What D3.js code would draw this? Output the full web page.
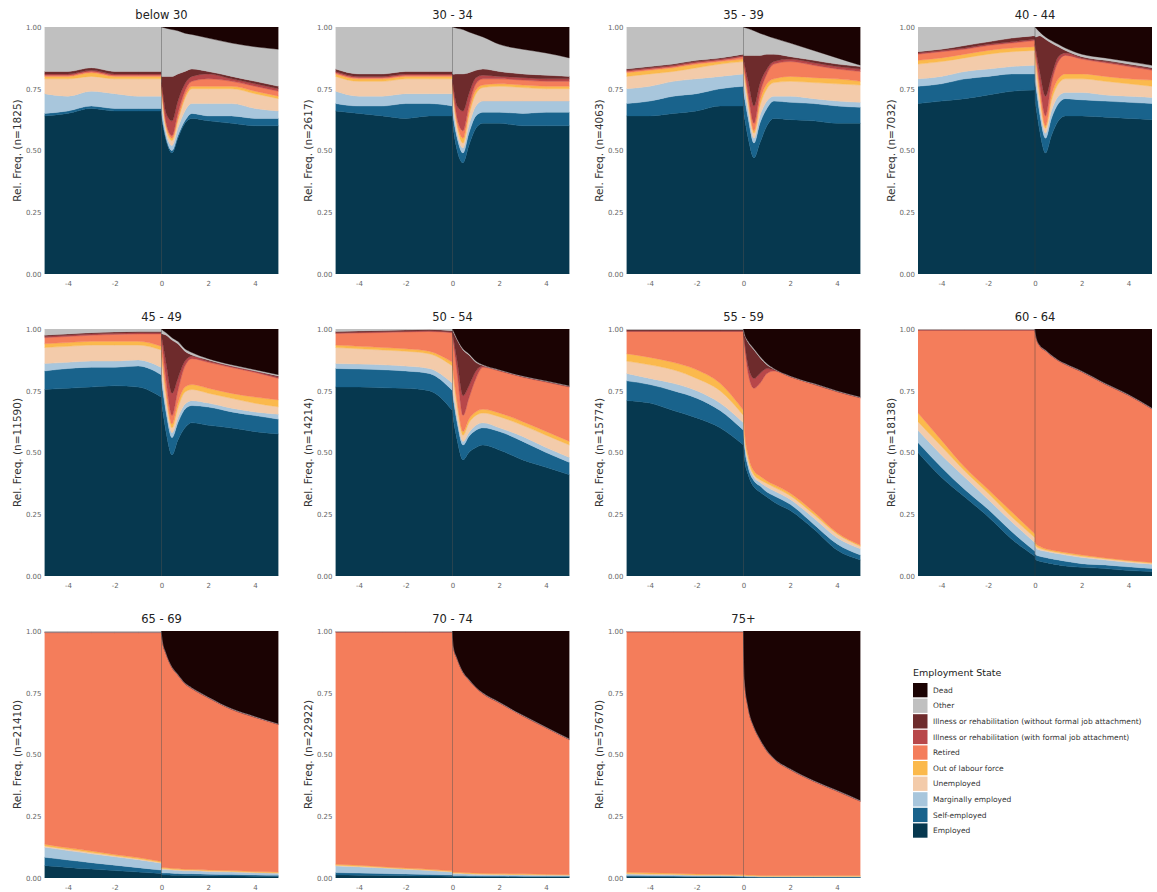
<!DOCTYPE html>
<html>
<head>
<meta charset="utf-8">
<script src="https://cdn.jsdelivr.net/npm/d3@7"></script>
<style>
  body { margin: 0; background: #fff; }
  svg text { font-family: "DejaVu Sans", sans-serif; }
</style>
</head>
<body>
<svg id="chart" width="1157" height="892"></svg>
<script>
// employment states, bottom of the stack first
const states = [
  "Employed", "Self-employed", "Marginally employed", "Unemployed", "Out of labour force",
  "Retired", "Illness or rehabilitation (with formal job attachment)",
  "Illness or rehabilitation (without formal job attachment)", "Other", "Dead"
];
const stateColors = [
  "#06384f", "#19638c", "#a8c6dc", "#f3cbaa", "#fbb94c",
  "#f47d5b", "#b8474a", "#6e2b2c", "#c0c0c0", "#1b0303"
];

const ageGroups = ["below 30", "30 - 34", "35 - 39", "40 - 44", "45 - 49", "50 - 54",
  "55 - 59", "60 - 64", "65 - 69", "70 - 74", "75+"];
const sampleSizes = [1825, 2617, 4063, 7032, 11590, 14214, 15774, 18138, 21410, 22922, 57670];

// years relative to the event; each share row = 6 values before, then 11 after
const yearsBefore = [-5, -4, -3, -2, -1, 0];
const yearsAfter = [0, 0.05, 0.2, 0.45, 0.7, 1, 1.3, 2, 3, 4, 5];
const xTicks = [-4, -2, 0, 2, 4];
const yTicks = [0, 0.25, 0.5, 0.75, 1];

const shareBelow30 = [
  [.64,.65,.67,.66,.66,.66, .64,.61,.54,.49,.55,.61,.63,.62,.61,.60,.60],
  [.01,.01,.01,.01,.01,.01, .01,.01,.01,.01,.01,.01,.02,.02,.03,.03,.03],
  [.08,.06,.06,.06,.05,.05, .04,.035,.02,.02,.03,.04,.04,.05,.05,.04,.03],
  [.06,.07,.06,.06,.07,.07, .06,.05,.02,.02,.03,.05,.06,.06,.06,.06,.05],
  [.01,.01,.015,.01,.01,.01, .01,.01,.01,.01,.01,.01,.01,.01,.01,.01,.01],
  [.005,.005,.005,.005,.005,.005, .005,.005,.01,.01,.02,.02,.02,.03,.02,.02,.02],
  [.005,.005,.005,.005,.005,.005, .01,.02,.04,.06,.05,.03,.02,.02,.01,.01,.01],
  [.01,.01,.01,.01,.01,.01, .025,.06,.15,.18,.11,.05,.03,.01,.01,.01,.01],
  [.18,.18,.165,.18,.18,.18, .20,.20,.195,.19,.175,.155,.14,.135,.135,.14,.15],
  [0,0,0,0,0,0, 0,.001,.005,.01,.015,.025,.03,.045,.065,.08,.09]
];
const share30to34 = [
  [.66,.65,.64,.63,.64,.64, .62,.58,.50,.45,.52,.59,.61,.61,.60,.60,.60],
  [.03,.03,.04,.06,.05,.04, .04,.045,.05,.04,.05,.05,.045,.045,.05,.055,.055],
  [.05,.04,.04,.04,.04,.05, .04,.035,.02,.02,.03,.04,.045,.045,.05,.045,.045],
  [.06,.06,.06,.06,.06,.06, .06,.05,.03,.02,.04,.05,.055,.06,.055,.05,.05],
  [.01,.01,.01,.01,.01,.01, .01,.01,.01,.02,.015,.015,.01,.01,.01,.01,.01],
  [.005,.005,.005,.005,.005,.005, .005,.01,.02,.03,.025,.025,.025,.02,.02,.02,.02],
  [.005,.005,.005,.005,.005,.005, .01,.02,.05,.08,.05,.025,.015,.01,.01,.01,.01],
  [.01,.01,.01,.01,.01,.01, .025,.06,.13,.15,.085,.03,.025,.02,.015,.015,.01],
  [.17,.19,.19,.18,.18,.18, .19,.19,.185,.18,.165,.145,.13,.11,.10,.09,.075],
  [0,0,0,0,0,0, 0,.001,.005,.01,.02,.03,.04,.07,.09,.105,.125]
];
const share35to39 = [
  [.64,.64,.65,.66,.68,.68, .66,.63,.55,.47,.53,.60,.63,.625,.62,.61,.61],
  [.05,.06,.07,.07,.07,.08, .08,.08,.08,.06,.08,.07,.07,.07,.07,.07,.065],
  [.06,.06,.06,.06,.05,.05, .05,.045,.03,.02,.03,.03,.02,.025,.02,.02,.02],
  [.05,.05,.04,.045,.05,.05, .05,.045,.04,.02,.04,.05,.055,.06,.065,.07,.07],
  [.015,.015,.015,.015,.01,.01, .01,.01,.01,.01,.02,.02,.015,.02,.02,.02,.015],
  [.005,.005,.005,.005,.005,.01, .01,.015,.02,.03,.03,.04,.06,.06,.05,.04,.04],
  [.005,.005,.005,.005,.005,.005, .01,.02,.05,.07,.04,.02,.01,.01,.01,.01,.01],
  [.005,.005,.005,.005,.005,.005, .015,.04,.105,.205,.115,.06,.03,.01,.01,.01,.01],
  [.17,.16,.15,.135,.125,.11, .115,.113,.109,.10,.09,.075,.065,.055,.04,.025,.005],
  [0,0,0,0,0,0, 0,.002,.006,.015,.025,.035,.045,.065,.095,.125,.155]
];
const share40to44 = [
  [.69,.70,.71,.725,.74,.745, .70,.67,.58,.49,.56,.62,.64,.64,.635,.63,.625],
  [.07,.07,.08,.075,.07,.065, .08,.08,.07,.06,.07,.07,.07,.065,.065,.065,.065],
  [.03,.03,.03,.03,.03,.035, .04,.035,.03,.02,.03,.03,.025,.03,.025,.025,.025],
  [.06,.06,.055,.06,.06,.06, .06,.055,.04,.02,.04,.05,.055,.055,.055,.05,.045],
  [.015,.015,.015,.015,.015,.015, .015,.015,.02,.01,.02,.02,.02,.02,.02,.02,.025],
  [.025,.025,.02,.02,.02,.025, .025,.025,.03,.04,.05,.07,.075,.06,.055,.05,.04],
  [.005,.005,.005,.005,.005,.005, .01,.02,.05,.08,.03,.02,.01,.005,.005,.005,.005],
  [.005,.005,.01,.01,.015,.015, .03,.06,.145,.23,.135,.04,.01,.005,.005,.005,.005],
  [.10,.09,.075,.06,.045,.035, .04,.035,.015,.01,.01,.01,.01,.01,.01,.01,.01],
  [0,0,0,0,0,0, 0,.005,.02,.04,.055,.07,.085,.11,.125,.14,.155]
];
const share45to49 = [
  [.755,.76,.765,.77,.765,.72, .70,.67,.58,.49,.55,.60,.62,.61,.60,.585,.575],
  [.075,.08,.08,.075,.085,.09, .09,.085,.08,.07,.07,.075,.07,.074,.065,.065,.06],
  [.03,.025,.025,.025,.025,.03, .03,.03,.025,.02,.02,.02,.02,.016,.015,.015,.02],
  [.065,.065,.065,.065,.06,.07, .07,.065,.045,.02,.04,.05,.045,.04,.04,.035,.03],
  [.015,.015,.015,.015,.015,.015, .015,.015,.015,.015,.02,.02,.02,.02,.02,.025,.028],
  [.025,.025,.025,.028,.03,.05, .055,.05,.045,.035,.05,.085,.105,.105,.105,.10,.087],
  [.005,.005,.005,.005,.005,.005, .01,.03,.07,.09,.05,.02,.01,.005,.005,.005,.005],
  [.005,.005,.005,.005,.005,.005, .01,.035,.115,.215,.14,.04,.005,.005,.001,.001,.005],
  [.025,.02,.015,.012,.01,.01, .02,.015,.01,.01,.01,.01,.01,.005,.005,.005,.005],
  [0,0,0,0,0,0, 0,.005,.015,.035,.05,.08,.095,.12,.145,.165,.185]
];
const share50to54 = [
  [.765,.765,.762,.76,.75,.67, .66,.63,.55,.47,.50,.52,.53,.51,.47,.44,.41],
  [.075,.073,.073,.07,.07,.08, .08,.08,.07,.06,.065,.07,.07,.075,.075,.06,.05],
  [.02,.02,.02,.02,.02,.03, .03,.025,.02,.015,.015,.02,.02,.015,.02,.02,.02],
  [.065,.062,.06,.06,.06,.07, .07,.065,.05,.025,.04,.04,.04,.045,.045,.05,.05],
  [.01,.01,.01,.01,.01,.015, .015,.015,.015,.015,.015,.015,.015,.015,.015,.015,.015],
  [.047,.054,.061,.068,.08,.12, .12,.125,.115,.065,.085,.135,.17,.17,.18,.20,.22],
  [.003,.003,.003,.003,.003,.003, .01,.02,.05,.08,.05,.03,.005,.002,.002,.002,.002],
  [.005,.005,.005,.005,.005,.005, .01,.03,.085,.185,.125,.035,.002,.001,.001,.001,.001],
  [.01,.008,.006,.004,.002,.007, .005,.005,.005,.005,.005,.005,.003,.002,.002,.002,.002],
  [0,0,0,0,0,0, 0,.01,.04,.08,.10,.13,.145,.165,.19,.21,.23]
];
const share55to59 = [
  [.71,.70,.67,.64,.60,.53, .52,.47,.41,.36,.34,.32,.30,.265,.19,.105,.065],
  [.08,.075,.08,.08,.07,.06, .06,.05,.03,.025,.025,.02,.025,.025,.02,.025,.02],
  [.03,.025,.03,.03,.03,.03, .03,.025,.02,.015,.015,.02,.02,.02,.025,.025,.025],
  [.05,.055,.055,.05,.05,.03, .025,.02,.015,.01,.01,.015,.015,.015,.015,.015,.01],
  [.03,.03,.03,.035,.03,.02, .025,.02,.015,.015,.015,.01,.01,.01,.01,.005,.005],
  [.09,.105,.125,.155,.21,.32, .32,.35,.33,.335,.375,.435,.46,.471,.516,.571,.596],
  [.002,.002,.002,.002,.002,.002, .005,.01,.03,.04,.04,.02,.005,.001,.001,.001,.001],
  [.005,.005,.005,.005,.005,.005, .005,.03,.095,.115,.065,.015,.003,.001,.001,.001,.001],
  [.003,.003,.003,.003,.003,.003, .01,.005,.005,.005,.005,.005,.002,.002,.002,.002,.002],
  [0,0,0,0,0,0, 0,.02,.05,.08,.11,.14,.16,.19,.22,.25,.275]
];
const share60to64 = [
  [.50,.40,.32,.24,.15,.08, .07,.065,.06,.055,.05,.045,.04,.035,.03,.022,.018],
  [.04,.04,.03,.03,.03,.02, .02,.02,.02,.02,.02,.02,.02,.015,.015,.015,.012],
  [.05,.05,.05,.04,.04,.035, .03,.028,.025,.025,.025,.025,.025,.025,.02,.018,.018],
  [.035,.035,.025,.025,.02,.02, .01,.008,.007,.005,.005,.005,.005,.005,.005,.005,.004],
  [.035,.025,.015,.015,.02,.015, .01,.009,.008,.005,.005,.005,.005,.005,.003,.003,.003],
  [.335,.445,.555,.645,.735,.825, .856,.84,.811,.801,.786,.771,.761,.741,.703,.668,.621],
  [.001,.001,.001,.001,.001,.001, .001,.001,.001,.001,.001,.001,.001,.001,.001,.001,.001],
  [.002,.002,.002,.002,.002,.002, .001,.001,.001,.001,.001,.001,.001,.001,.001,.001,.001],
  [.002,.002,.002,.002,.002,.002, .002,.002,.002,.002,.002,.002,.002,.002,.002,.002,.002],
  [0,0,0,0,0,0, 0,.03,.065,.085,.105,.125,.14,.17,.22,.265,.32]
];
const share65to69 = [
  [.05,.043,.036,.03,.024,.018, .012,.012,.012,.011,.011,.01,.01,.009,.008,.007,.006],
  [.034,.03,.026,.022,.018,.014, .008,.008,.008,.008,.007,.007,.007,.006,.006,.005,.005],
  [.04,.038,.036,.034,.032,.028, .015,.015,.014,.013,.013,.012,.012,.011,.01,.009,.008],
  [.006,.005,.005,.004,.004,.003, .004,.004,.004,.003,.003,.003,.003,.003,.003,.002,.002],
  [.007,.006,.006,.005,.005,.004, .004,.004,.004,.004,.004,.003,.003,.003,.003,.003,.003],
  [.856,.871,.884,.898,.91,.926, .953,.92,.864,.812,.783,.751,.731,.697,.652,.624,.597],
  [.001,.001,.001,.001,.001,.001, .001,.001,.001,.001,.001,.001,.001,.001,.001,.001,.001],
  [.001,.001,.001,.001,.001,.001, .001,.001,.001,.001,.001,.001,.001,.001,.001,.001,.001],
  [.005,.005,.005,.005,.005,.005, .002,.002,.002,.002,.002,.002,.002,.002,.002,.002,.002],
  [0,0,0,0,0,0, 0,.04,.09,.145,.175,.21,.23,.267,.314,.346,.375]
];
const share70to74 = [
  [.012,.011,.01,.009,.008,.007, .006,.006,.006,.006,.005,.005,.005,.005,.004,.004,.004],
  [.01,.009,.008,.007,.006,.005, .004,.004,.004,.004,.004,.004,.003,.003,.003,.003,.003],
  [.027,.025,.022,.019,.016,.012, .008,.008,.008,.007,.007,.006,.006,.005,.005,.004,.004],
  [.003,.003,.003,.002,.002,.002, .002,.002,.002,.002,.002,.002,.002,.002,.002,.002,.001],
  [.004,.004,.003,.003,.003,.003, .003,.003,.003,.003,.003,.003,.003,.003,.003,.002,.002],
  [.939,.943,.949,.955,.96,.966, .972,.907,.862,.808,.779,.749,.726,.69,.638,.592,.545],
  [.001,.001,.001,.001,.001,.001, .001,.001,.001,.001,.001,.001,.001,.001,.001,.001,.001],
  [.001,.001,.001,.001,.001,.001, .001,.001,.001,.001,.001,.001,.001,.001,.001,.001,.001],
  [.003,.003,.003,.003,.003,.003, .002,.002,.002,.002,.002,.002,.002,.002,.002,.002,.002],
  [0,0,0,0,0,0, 0,.065,.11,.165,.195,.226,.25,.287,.34,.388,.436]
];
const share75plus = [
  [.006,.005,.005,.004,.004,.003, .003,.003,.003,.003,.002,.002,.002,.002,.002,.002,.002],
  [.004,.004,.003,.003,.003,.003, .003,.003,.002,.002,.002,.002,.002,.002,.002,.002,.002],
  [.006,.005,.005,.004,.004,.003, .003,.003,.003,.003,.002,.002,.002,.002,.002,.002,.002],
  [.002,.002,.002,.001,.001,.001, .001,.001,.001,.001,.001,.001,.001,.001,.001,.001,.001],
  [.005,.005,.004,.004,.003,.003, .003,.003,.003,.003,.003,.003,.003,.003,.003,.003,.003],
  [.973,.975,.977,.98,.981,.983, .983,.783,.678,.597,.55,.503,.471,.428,.381,.341,.30],
  [.001,.001,.001,.001,.001,.001, .001,.001,.001,.001,.001,.001,.001,.001,.001,.001,.001],
  [.001,.001,.001,.001,.001,.001, .001,.001,.001,.001,.001,.001,.001,.001,.001,.001,.001],
  [.002,.002,.002,.002,.002,.002, .002,.002,.002,.002,.002,.002,.002,.002,.002,.002,.002],
  [0,0,0,0,0,0, 0,.20,.307,.388,.436,.483,.515,.558,.605,.645,.686]
];

const panelShares = [shareBelow30, share30to34, share35to39, share40to44, share45to49,
  share50to54, share55to59, share60to64, share65to69, share70to74, share75plus];

// layout
const colLeft = [44.5, 335.5, 626.5, 918];
const rowTop = [27, 329, 631];
const plotW = 234, plotH = 247;

const svg = d3.select("#chart");
svg.append("rect").attr("width", 1157).attr("height", 892).attr("fill", "#fff");

const x = d3.scaleLinear().domain([-5, 5]).range([0, plotW]);
const y = d3.scaleLinear().domain([0, 1]).range([plotH, 0]);
const color = d3.scaleOrdinal().domain(states).range(stateColors);

const area = d3.area()
  .x(d => x(d.data.year))
  .y0(d => y(d[0]))
  .y1(d => y(d[1]))
  .curve(d3.curveMonotoneX);

const stack = d3.stack().keys(states).offset(d3.stackOffsetExpand);

function segmentRows(shares, years, offset) {
  return years.map((yr, i) => {
    let row = {year: yr};
    states.forEach((s, k) => { row[s] = shares[k][offset + i]; });
    return row;
  });
}

ageGroups.forEach((group, p) => {
  let g = svg.append("g")
    .attr("transform", `translate(${colLeft[p % 4]},${rowTop[Math.floor(p / 4)]})`);

  g.append("clipPath").attr("id", "clip" + p)
    .append("rect").attr("width", plotW).attr("height", plotH);

  let plot = g.append("g").attr("clip-path", `url(#clip${p})`);
  let shares = panelShares[p];

  [[yearsBefore, 0], [yearsAfter, yearsBefore.length]].forEach(([years, offset]) => {
    // skip states that are empty over the whole segment (e.g. Dead before the event)
    let series = stack(segmentRows(shares, years, offset))
      .filter(s => d3.max(s, v => v[1] - v[0]) > 0);
    plot.selectAll(null)
      .data(series)
      .enter().append("path")
      .attr("d", area)
      .attr("fill", d => color(d.key))
      .attr("stroke", d => color(d.key))
      .attr("stroke-width", 0.4);
  });

  // event marker at year 0
  plot.append("line")
    .attr("x1", x(0)).attr("x2", x(0))
    .attr("y1", y(0)).attr("y2", y(1))
    .attr("stroke", "#3a3a3a")
    .attr("stroke-opacity", 0.5)
    .attr("stroke-width", 0.8);

  let yAxis = g.append("g")
    .call(d3.axisLeft(y).tickValues(yTicks).tickFormat(d3.format(".2f")).tickSize(0).tickPadding(3));
  let xAxis = g.append("g")
    .attr("transform", `translate(0,${plotH})`)
    .call(d3.axisBottom(x).tickValues(xTicks).tickFormat(d => String(d)).tickSize(0).tickPadding(7));
  [yAxis, xAxis].forEach(a => {
    a.select(".domain").remove();
    a.selectAll("text").attr("font-size", 7).attr("fill", "#666")
      .attr("font-family", "DejaVu Sans, sans-serif");
  });

  g.append("text")
    .attr("x", plotW / 2).attr("y", -8)
    .attr("text-anchor", "middle")
    .attr("font-size", 11.5)
    .attr("fill", "#222")
    .text(group);

  g.append("text")
    .attr("transform", `translate(-27,${plotH / 2}) rotate(-90)`)
    .attr("text-anchor", "middle")
    .attr("dy", "0.35em")
    .attr("font-size", 10.5)
    .attr("fill", "#333")
    .text(`Rel. Freq. (n=${sampleSizes[p]})`);
});

// legend
const legend = svg.append("g").attr("transform", "translate(913,676)");
legend.append("text")
  .attr("x", 0).attr("y", 0)
  .attr("font-size", 9.5)
  .attr("fill", "#222")
  .text("Employment State");

const legendStates = states.slice().reverse();
const item = legend.selectAll(".item")
  .data(legendStates)
  .enter().append("g")
  .attr("transform", (d, i) => `translate(0,${7 + i * 15.6})`);
item.append("rect")
  .attr("width", 14.5).attr("height", 14.3)
  .attr("fill", d => color(d));
item.append("text")
  .attr("x", 20).attr("y", 7.2)
  .attr("dy", "0.35em")
  .attr("font-size", 7.5)
  .attr("fill", "#333")
  .text(d => d);
</script>
</body>
</html>
